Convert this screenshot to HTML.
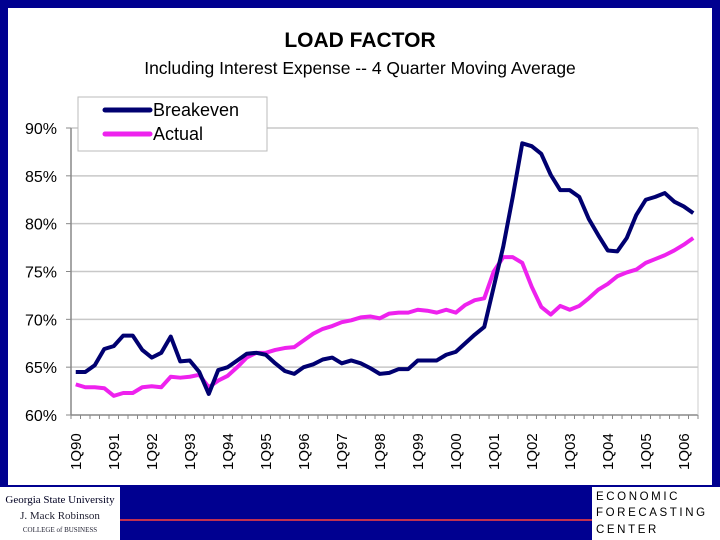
<!DOCTYPE html>
<html><head><meta charset="utf-8"><style>
body{margin:0;width:720px;height:540px;background:#000090;overflow:hidden;font-family:"Liberation Sans",sans-serif}
</style></head><body>
<svg width="720" height="540" style="position:absolute;left:0;top:0">
<rect x="8" y="8" width="704" height="477" fill="#fff"/>
<text x="360" y="47" text-anchor="middle" font-size="21" font-weight="bold" font-family="Liberation Sans">LOAD FACTOR</text>
<text x="360" y="74" text-anchor="middle" font-size="17.5" font-family="Liberation Sans">Including Interest Expense -- 4 Quarter Moving Average</text>
<g id="grid"></g><g id="axes"></g><g id="series"></g>
<g>
<rect x="78" y="97" width="189" height="54" fill="#fff" stroke="#bbb"/>
<line x1="105" y1="110" x2="150" y2="110" stroke="#000070" stroke-width="5" stroke-linecap="round"/>
<text x="153" y="116" font-size="18">Breakeven</text>
<line x1="105" y1="134" x2="150" y2="134" stroke="#ee22ee" stroke-width="5" stroke-linecap="round"/>
<text x="153" y="140" font-size="18">Actual</text>
</g>
<rect x="0" y="487" width="120" height="53" fill="#fff"/>
<text x="60" y="503" text-anchor="middle" font-size="11" font-family="Liberation Serif" fill="#002">Georgia State University</text>
<text x="60" y="519" text-anchor="middle" font-size="11" font-family="Liberation Serif" fill="#223">J. Mack Robinson</text>
<text x="60" y="532" text-anchor="middle" font-size="7" font-family="Liberation Serif" fill="#223">COLLEGE of BUSINESS</text>
<line x1="120" y1="520" x2="592" y2="520" stroke="#c03050" stroke-width="2"/>
<rect x="592" y="487" width="128" height="53" fill="#fff"/>
<text x="596" y="500" font-size="11.5" letter-spacing="2.6">ECONOMIC</text>
<text x="596" y="516" font-size="11.5" letter-spacing="2.6">FORECASTING</text>
<text x="596" y="533" font-size="11.5" letter-spacing="2.6">CENTER</text>
</svg>
<script>
const breakeven=[64.5,64.5,65.2,66.9,67.2,68.3,68.3,66.8,66,66.5,68.2,65.6,65.7,64.5,62.2,64.7,65,65.7,66.4,66.5,66.3,65.4,64.6,64.3,65,65.3,65.8,66,65.4,65.7,65.4,64.9,64.3,64.4,64.8,64.8,65.7,65.7,65.7,66.3,66.6,67.5,68.4,69.2,73.4,77.6,82.8,88.4,88.1,87.3,85.1,83.5,83.5,82.8,80.5,78.8,77.2,77.1,78.5,80.9,82.5,82.8,83.2,82.3,81.8,81.1];
const actual=[63.2,62.9,62.9,62.8,62.0,62.3,62.3,62.9,63.0,62.9,64.0,63.9,64.0,64.2,62.9,63.6,64.1,65.0,66.0,66.5,66.5,66.8,67.0,67.1,67.8,68.5,69.0,69.3,69.7,69.9,70.2,70.3,70.1,70.6,70.7,70.7,71.0,70.9,70.7,71.0,70.7,71.5,72.0,72.2,75.0,76.5,76.5,75.9,73.4,71.3,70.5,71.4,71.0,71.4,72.2,73.1,73.7,74.5,74.9,75.2,75.9,76.3,76.7,77.2,77.8,78.5];
const yTicks=[60,65,70,75,80,85,90];
const xLabels=["1Q90","1Q91","1Q92","1Q93","1Q94","1Q95","1Q96","1Q97","1Q98","1Q99","1Q00","1Q01","1Q02","1Q03","1Q04","1Q05","1Q06"];
const NS="http://www.w3.org/2000/svg";
const X0=71,X1=698,Y0=415,Y1=128,N=breakeven.length,step=(X1-X0)/N;
const xs=i=>X0+(i+0.5)*step;
const ys=v=>Y0-(v-60)/30*(Y0-Y1);
function mk(t,a,p){const e=document.createElementNS(NS,t);for(const k in a)e.setAttribute(k,a[k]);p.appendChild(e);return e;}
const grid=document.getElementById('grid'),axes=document.getElementById('axes'),ser=document.getElementById('series');
yTicks.forEach(v=>{
 if(v>60){const g=mk('line',{x1:X0,x2:X1,y1:ys(v),y2:ys(v),stroke:'#c8c8c8','stroke-width':1.5},grid);
 
 }
 mk('line',{x1:X0-5,x2:X0,y1:ys(v),y2:ys(v),stroke:'#888'},axes);
 const t=mk('text',{x:57,y:ys(v)+6,'text-anchor':'end','font-size':16,'font-family':'Liberation Sans'},axes);
 t.textContent=v+'%';
 
 
});
mk('line',{x1:X0,x2:X0,y1:Y1,y2:Y0,stroke:'#888','stroke-width':1.5},axes);
mk('line',{x1:X0,x2:X1,y1:Y0,y2:Y0,stroke:'#888','stroke-width':1.5},axes);
mk('line',{x1:X1,x2:X1,y1:Y1,y2:Y0,stroke:'#ccc','stroke-width':1},axes);
for(let i=0;i<=N;i++)mk('line',{x1:X0+i*step,x2:X0+i*step,y1:Y0,y2:Y0+4,stroke:'#888'},axes);
xLabels.forEach((l,k)=>{
 const x=xs(k*4)+5,y=470;
 const t=mk('text',{x:x,y:y,'font-size':15,'font-family':'Liberation Sans',transform:`rotate(-90 ${x} ${y})`},axes);
 t.textContent=l;
 
 
});
function line(d,c,name){
 const p=mk('polyline',{points:d.map((v,i)=>xs(i)+','+ys(v)).join(' '),fill:'none',stroke:c,'stroke-width':4,'stroke-linejoin':'round'},ser);
 
 
}
line(actual,'#ee22ee','actual-line');
line(breakeven,'#000070','breakeven-line');
</script>
</body></html>
